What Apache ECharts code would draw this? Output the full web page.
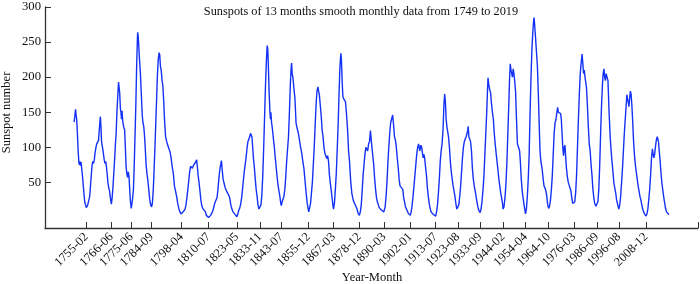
<!DOCTYPE html>
<html><head><meta charset="utf-8">
<script src="https://cdn.jsdelivr.net/npm/echarts@6/dist/echarts.min.js"></script>
<style>html,body{margin:0;padding:0;background:#fff}#c{width:700px;height:284px}</style>
</head><body><div id="c"></div>
<script>
const titleText = "Sunspots of 13 months smooth monthly data from 1749 to 2019";
const xName = "Year-Month";
const yName = "Sunspot number";
const cycleMinima = ["1755-02","1766-06","1775-06","1784-09","1798-04","1810-07","1823-05","1833-11","1843-07","1855-12","1867-03","1878-12","1890-03","1902-01","1913-07","1923-08","1933-09","1944-02","1954-04","1964-10","1976-03","1986-09","1996-08","2008-12"];
const yTicks = [50,100,150,200,250,300];

const ssn1700s = [["1749-07",136],["1749-10",142],["1750-01",150],["1750-03",154],["1750-05",148],["1750-09",140],["1751-01",120],["1751-05",95],["1751-09",78],["1751-12",75],["1752-03",80],["1752-06",74],["1752-09",79],["1753-01",68],["1753-05",58],["1753-09",45],["1754-01",33],["1754-05",22],["1754-09",18],["1755-01",14],["1755-04",15],["1755-08",17],["1755-12",17],["1756-04",19],["1756-08",30],["1757-01",48],["1757-05",62],["1757-09",75],["1758-01",80],["1758-05",77],["1758-09",82],["1759-01",92],["1759-06",100],["1759-10",105],["1760-03",104],["1760-08",110],["1761-01",128],["1761-06",144],["1761-09",130],["1761-12",110],["1762-03",103],["1762-07",98],["1762-11",90],["1763-03",82],["1763-07",77],["1763-11",80],["1764-03",72],["1764-07",62],["1764-11",50],["1765-03",43],["1765-08",38],["1766-01",27],["1766-06",19],["1766-10",28],["1767-03",45],["1767-07",63],["1767-11",80],["1768-04",105],["1768-08",120],["1768-12",150],["1769-05",175],["1769-09",193],["1769-12",185],["1770-03",178],["1770-07",155],["1770-10",150],["1771-01",140],["1771-04",152],["1771-07",140],["1771-10",133],["1772-02",128],["1772-06",125],["1772-10",100],["1773-02",72],["1773-06",63],["1773-10",57],["1774-02",65],["1774-06",58],["1774-10",38],["1775-02",22],["1775-06",13],["1775-09",15],["1776-01",26],["1776-06",40],["1776-10",72],["1777-03",120],["1777-07",160],["1777-11",210],["1778-03",250],["1778-05",264],["1778-08",258],["1778-11",245],["1779-03",225],["1779-08",205],["1780-01",175],["1780-06",145],["1780-10",135],["1781-02",130],["1781-06",118],["1781-10",100],["1782-03",75],["1782-08",62],["1783-01",52],["1783-06",38],["1783-11",25],["1784-04",18],["1784-09",15],["1785-01",20],["1785-06",40],["1785-10",65],["1786-03",100],["1786-07",130],["1786-11",160],["1787-04",200],["1787-09",225],["1788-02",235],["1788-05",232],["1788-09",215],["1789-01",210],["1789-06",195],["1789-10",188],["1790-03",165],["1790-07",140],["1791-01",115],["1791-07",108],["1792-01",103],["1792-07",98],["1793-01",94],["1793-07",85],["1794-01",72],["1794-07",63],["1795-01",45],["1795-07",38],["1796-01",30],["1796-07",20],["1797-01",13],["1797-07",8],["1798-01",5],["1798-04",4],["1798-08",6],["1799-01",8],["1799-06",10],["1799-11",12]];

const ssn1800s = [["1800-04",18],["1800-09",28],["1801-02",40],["1801-07",52],["1801-12",65],["1802-05",73],["1802-10",71],["1803-03",70],["1803-08",74],["1804-01",75],["1804-06",78],["1804-10",80],["1805-02",82],["1805-06",72],["1805-10",60],["1806-03",50],["1806-08",38],["1807-01",25],["1807-06",17],["1807-11",13],["1808-04",14],["1808-09",15],["1809-02",8],["1809-07",3],["1809-12",1],["1810-07",0],["1811-01",1],["1811-06",3],["1811-11",5],["1812-04",8],["1812-09",12],["1813-02",18],["1813-07",22],["1813-12",24],["1814-05",28],["1814-10",40],["1815-03",55],["1815-08",68],["1816-01",76],["1816-05",81],["1816-09",68],["1817-02",55],["1817-08",48],["1818-02",42],["1818-08",38],["1819-02",35],["1819-08",32],["1820-02",28],["1820-08",18],["1821-02",12],["1821-08",8],["1822-02",6],["1822-08",4],["1823-02",2],["1823-05",1],["1823-10",5],["1824-03",10],["1824-08",13],["1825-01",18],["1825-06",26],["1825-11",38],["1826-04",52],["1826-09",65],["1827-02",75],["1827-07",85],["1827-12",98],["1828-05",108],["1828-10",110],["1829-03",115],["1829-07",120],["1829-11",118],["1830-03",115],["1830-07",100],["1830-11",85],["1831-04",72],["1831-09",55],["1832-02",40],["1832-07",30],["1832-12",18],["1833-05",12],["1833-11",11],["1834-04",18],["1834-09",32],["1835-02",60],["1835-07",100],["1835-12",145],["1836-05",190],["1836-10",225],["1837-02",245],["1837-05",240],["1837-08",220],["1838-01",175],["1838-05",150],["1838-08",140],["1838-10",150],["1839-02",135],["1839-07",125],["1839-12",112],["1840-05",100],["1840-10",85],["1841-03",72],["1841-08",58],["1842-01",46],["1842-06",38],["1842-11",30],["1843-04",20],["1843-07",17],["1843-11",22],["1844-04",26],["1844-09",30],["1845-02",40],["1845-07",58],["1845-12",80],["1846-05",98],["1846-10",115],["1847-03",150],["1847-08",190],["1848-01",215],["1848-03",220],["1848-06",205],["1848-10",200],["1849-03",185],["1849-09",170],["1850-03",135],["1850-09",127],["1851-04",120],["1851-10",110],["1852-04",100],["1852-10",92],["1853-04",80],["1853-10",70],["1854-04",52],["1854-10",35],["1855-04",20],["1855-12",8],["1856-05",10],["1856-10",20],["1857-03",35],["1857-08",50],["1858-01",75],["1858-06",100],["1858-11",130],["1859-04",160],["1859-09",180],["1860-02",186],["1860-06",180],["1860-10",175],["1861-03",160],["1861-08",145],["1862-01",125],["1862-06",115],["1862-11",100],["1863-04",92],["1863-09",88],["1864-02",84],["1864-07",88],["1864-12",80],["1865-05",60],["1865-10",48],["1866-03",38],["1866-08",26],["1867-01",15],["1867-03",12],["1867-08",20],["1868-01",40],["1868-06",62],["1868-11",95],["1869-04",130],["1869-09",175],["1870-02",215],["1870-07",234],["1870-10",225],["1871-02",195],["1871-06",172],["1872-01",168],["1872-08",165],["1873-01",150],["1873-07",128],["1874-01",95],["1874-06",80],["1875-01",50],["1875-07",34],["1876-03",24],["1876-10",20],["1877-05",18],["1877-11",12],["1878-05",6],["1878-12",3],["1879-05",8],["1879-10",18],["1880-03",38],["1880-08",60],["1881-01",75],["1881-06",90],["1881-11",100],["1882-04",98],["1882-09",95],["1883-02",105],["1883-07",108],["1883-12",124],["1884-04",112],["1884-08",100],["1885-01",88],["1885-06",75],["1885-11",55],["1886-04",40],["1886-09",28],["1887-02",22],["1887-07",18],["1887-12",14],["1888-05",13],["1888-10",11],["1889-03",10],["1889-08",9],["1890-01",8],["1890-03",7],["1890-08",15],["1891-01",30],["1891-06",50],["1891-11",78],["1892-04",100],["1892-09",120],["1893-02",135],["1893-07",140],["1894-01",146],["1894-06",132],["1894-11",115],["1895-04",110],["1895-09",100],["1896-02",85],["1896-07",72],["1896-12",55],["1897-05",45],["1897-10",43],["1898-03",45],["1898-08",40],["1899-01",28],["1899-06",22],["1899-11",15]];

const ssn1900s = [["1900-04",12],["1900-09",10],["1901-02",6],["1901-07",4],["1902-01",3],["1902-06",8],["1902-11",18],["1903-04",30],["1903-09",45],["1904-02",60],["1904-07",75],["1904-12",90],["1905-05",100],["1905-10",105],["1906-02",107],["1906-05",95],["1906-08",100],["1906-11",103],["1907-03",100],["1907-07",92],["1907-11",85],["1908-03",90],["1908-07",85],["1908-12",72],["1909-05",60],["1909-10",42],["1910-03",30],["1910-08",20],["1911-01",13],["1911-06",8],["1911-11",6],["1912-04",5],["1912-09",4],["1913-02",3],["1913-07",2],["1913-12",8],["1914-05",18],["1914-10",35],["1915-03",55],["1915-08",80],["1916-01",95],["1916-06",105],["1916-11",125],["1917-04",160],["1917-08",176],["1917-12",165],["1918-04",140],["1918-08",130],["1918-12",128],["1919-05",115],["1919-10",100],["1920-03",80],["1920-08",65],["1921-01",55],["1921-06",45],["1921-11",38],["1922-04",30],["1922-09",20],["1923-02",12],["1923-08",10],["1924-01",18],["1924-06",30],["1924-11",45],["1925-04",65],["1925-09",85],["1926-02",100],["1926-07",108],["1926-12",112],["1927-05",115],["1927-10",120],["1928-02",125],["1928-04",130],["1928-08",115],["1928-12",112],["1929-05",108],["1929-10",95],["1930-03",70],["1930-08",55],["1931-01",45],["1931-06",38],["1931-11",30],["1932-04",22],["1932-09",15],["1933-02",10],["1933-09",7],["1934-02",12],["1934-07",22],["1935-01",40],["1935-06",60],["1935-11",90],["1936-04",120],["1936-09",150],["1937-01",180],["1937-04",199],["1937-08",190],["1938-01",182],["1938-06",178],["1938-11",162],["1939-04",150],["1939-09",140],["1940-02",120],["1940-07",105],["1940-12",92],["1941-05",80],["1941-10",68],["1942-03",55],["1942-08",45],["1943-01",35],["1943-06",28],["1943-11",20],["1944-02",12],["1944-07",15],["1945-01",30],["1945-06",50],["1945-11",80],["1946-04",120],["1946-09",160],["1947-01",195],["1947-05",219],["1947-09",210],["1948-01",205],["1948-05",200],["1948-09",212],["1949-01",205],["1949-05",195],["1949-10",180],["1950-03",140],["1950-08",105],["1951-02",100],["1951-08",95],["1951-12",80],["1952-05",55],["1952-10",38],["1953-03",28],["1953-08",18],["1954-01",10],["1954-04",5],["1954-09",12],["1955-02",30],["1955-07",55],["1955-12",90],["1956-05",150],["1956-10",200],["1957-03",240],["1957-08",265],["1957-12",280],["1958-03",285],["1958-07",270],["1958-11",255],["1959-04",235],["1959-09",215],["1960-02",175],["1960-07",130],["1960-11",95],["1961-03",82],["1961-07",75],["1961-11",68],["1962-04",55],["1962-09",45],["1963-02",42],["1963-07",38],["1963-12",30],["1964-05",18],["1964-10",13],["1965-03",16],["1965-08",25],["1966-01",40],["1966-06",60],["1966-11",90],["1967-04",120],["1967-09",135],["1968-02",140],["1968-06",148],["1968-11",157],["1969-03",150],["1969-07",152],["1969-11",148],["1970-03",148],["1970-07",140],["1970-11",120],["1971-03",100],["1971-07",88],["1971-11",100],["1972-03",103],["1972-07",85],["1972-11",70],["1973-04",58],["1973-09",50],["1974-01",48],["1974-06",50],["1974-11",38],["1975-04",28],["1975-09",20],["1976-03",18],["1976-08",22],["1977-01",35],["1977-06",60],["1977-11",100],["1978-04",140],["1978-09",175],["1979-02",205],["1979-07",220],["1979-12",233],["1980-04",220],["1980-08",205],["1980-12",210],["1981-04",200],["1981-08",198],["1981-12",185],["1982-05",160],["1982-10",130],["1983-03",105],["1983-08",95],["1984-01",75],["1984-06",60],["1984-11",40],["1985-04",28],["1985-09",20],["1986-03",16],["1986-09",14],["1987-02",22],["1987-07",40],["1987-12",75],["1988-05",120],["1988-10",160],["1989-03",190],["1989-07",205],["1989-11",212],["1990-03",200],["1990-07",195],["1990-11",205],["1991-03",203],["1991-09",195],["1992-03",150],["1992-09",115],["1993-02",95],["1993-07",80],["1993-12",65],["1994-05",50],["1994-10",42],["1995-03",35],["1995-08",25],["1996-02",18],["1996-08",12],["1997-01",18],["1997-06",30],["1997-11",50],["1998-04",70],["1998-09",95],["1999-02",120],["1999-07",140],["1999-12",160]];

const ssn2000s = [["2000-04",175],["2000-08",168],["2000-11",165],["2001-03",158],["2001-07",170],["2001-11",180],["2002-03",175],["2002-07",160],["2002-11",140],["2003-04",110],["2003-09",90],["2004-02",75],["2004-07",65],["2004-12",55],["2005-05",45],["2005-10",38],["2006-03",30],["2006-08",25],["2007-01",18],["2007-06",12],["2007-11",8],["2008-04",5],["2008-12",2],["2009-05",5],["2009-10",12],["2010-03",25],["2010-08",40],["2011-01",60],["2011-06",85],["2011-11",98],["2012-03",90],["2012-07",85],["2012-11",90],["2013-03",100],["2013-08",110],["2014-01",115],["2014-04",116],["2014-08",108],["2014-12",95],["2015-05",80],["2015-10",62],["2016-03",48],["2016-08",38],["2017-01",28],["2017-06",20],["2017-11",12],["2018-04",8],["2018-09",6],["2019-02",5],["2019-05",4]];

const toYear = s => { const p = s.split('-').map(Number); return p[0] + (p[1] - 1) / 12; };
const xMin = 1736.3, xMax = 2032.5;
const seriesData = [].concat(ssn1700s, ssn1800s, ssn1900s, ssn2000s).map(d => [toYear(d[0]), d[1]]);
const tickVals = cycleMinima.map(toYear);
const labelFor = v => { let best = 0; tickVals.forEach((t, i) => { if (Math.abs(t - v) < Math.abs(tickVals[best] - v)) best = i; }); return Math.abs(tickVals[best] - v) < 0.01 ? cycleMinima[best] : ''; };

const FONT = 'Liberation Serif';
const chart = echarts.init(document.getElementById('c'), null, {renderer: 'canvas'});
chart.setOption({
  animation: false,
  backgroundColor: '#fff',
  grid: {left: 45, right: 2, top: 7, bottom: 56, containLabel: false},
  xAxis: {
    type: 'value', min: xMin, max: xMax,
    splitLine: {show: false},
    axisLine: {show: true, onZero: false, lineStyle: {color: '#333', width: 1.3}},
    axisTick: {show: true, inside: true, length: 6, customValues: tickVals.concat([xMax]), lineStyle: {color: '#333', width: 1}},
    axisLabel: {show: true, customValues: tickVals, rotate: 45, margin: 7, fontFamily: FONT, fontSize: 12.5, color: '#111', formatter: v => labelFor(v)}
  },
  yAxis: {
    type: 'value', min: -15, max: 300,
    splitLine: {show: false},
    axisLine: {show: true, onZero: false, lineStyle: {color: '#333', width: 1.3}},
    axisTick: {show: true, inside: true, length: 6, customValues: yTicks, lineStyle: {color: '#333', width: 1}},
    axisLabel: {show: true, customValues: yTicks, margin: 4, fontFamily: FONT, fontSize: 12.7, color: '#111'}
  },
  graphic: [
    {type: 'text', x: 361, y: 12, style: {text: titleText, font: '12.3px "Liberation Serif"', fill: '#111', align: 'center', verticalAlign: 'middle'}},
    {type: 'text', x: 372, y: 278, style: {text: xName, font: '12.5px "Liberation Serif"', fill: '#111', align: 'center', verticalAlign: 'middle'}},
    {type: 'text', x: 7, y: 112.5, rotation: Math.PI / 2, style: {text: yName, font: '12.5px "Liberation Serif"', fill: '#111', align: 'center', verticalAlign: 'middle'}}
  ],
  series: [{
    type: 'line', data: seriesData, showSymbol: false, smooth: false,
    lineStyle: {color: 'rgb(20,50,245)', width: 1.4},
    clip: true
  }]
});
</script>
</body></html>
